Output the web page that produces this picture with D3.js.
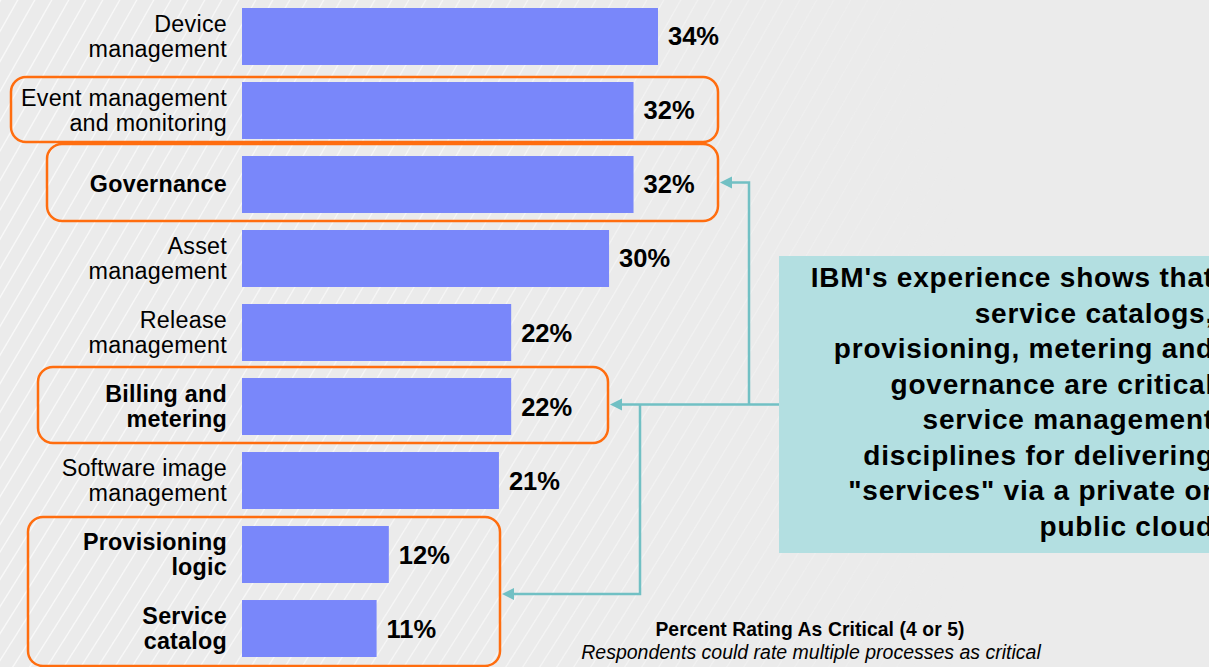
<!DOCTYPE html>
<html>
<head>
<meta charset="utf-8">
<script src="https://cdn.jsdelivr.net/npm/d3@7"></script>
<style>
  html, body { margin: 0; padding: 0; background: #ebebeb; overflow: hidden; }
  svg { display: block; font-family: "Liberation Sans", Arial, Helvetica, sans-serif; }
</style>
</head>
<body>
<div class="chart"></div>
<script>
const WIDTH = 1209
const HEIGHT = 667

// data
const CATEGORIES = ["Device management", "Event management and monitoring", "Governance", "Asset management",
  "Release management", "Billing and metering", "Software image management", "Provisioning logic", "Service catalog"]
const LABEL_LINES = [["Device", "management"], ["Event management", "and monitoring"], ["Governance"],
  ["Asset", "management"], ["Release", "management"], ["Billing and", "metering"],
  ["Software image", "management"], ["Provisioning", "logic"], ["Service", "catalog"]]
const VALUES = [34, 32, 32, 30, 22, 22, 21, 12, 11]
const BOLD = ["Governance", "Billing and metering", "Provisioning logic", "Service catalog"]

const CALLOUT_LINES = ["IBM's experience shows that", "service catalogs,", "provisioning, metering and",
  "governance are critical", "service management", "disciplines for delivering",
  "\"services\" via a private or", "public cloud"]
const TITLE = "Percent Rating As Critical (4 or 5)"
const SUBTITLE = "Respondents could rate multiple processes as critical"

// highlight boxes: first & last category of each group
const HIGHLIGHTS = [
  { from: "Event management and monitoring", to: "Event management and monitoring", x0: 11, x1: 718, padTop: 5, padBottom: 3 },
  { from: "Governance", to: "Governance", x0: 47, x1: 718, padTop: 12, padBottom: 8 },
  { from: "Billing and metering", to: "Billing and metering", x0: 38, x1: 608, padTop: 11, padBottom: 8 },
  { from: "Provisioning logic", to: "Service catalog", x0: 28, x1: 500, padTop: 9, padBottom: 9 }
]

const BAR_COLOR = "#7987fa"
const ORANGE = "#ff6d0f"
const TEAL = "#71c0c4"
const CALLOUT_FILL = "#b3dfe1"

const svg = d3.select(".chart").append("svg").attr("width", WIDTH).attr("height", HEIGHT)

// background with faint diagonal streaks on the left
const defs = svg.append("defs")
const grad = defs.append("linearGradient").attr("id", "fade").attr("x1", 0).attr("x2", 1).attr("y1", 0).attr("y2", 0)
grad.append("stop").attr("offset", "0%").attr("stop-color", "#fff").attr("stop-opacity", 1)
grad.append("stop").attr("offset", "45%").attr("stop-color", "#fff").attr("stop-opacity", 0.7)
grad.append("stop").attr("offset", "80%").attr("stop-color", "#fff").attr("stop-opacity", 0)
const mask = defs.append("mask").attr("id", "streakMask")
mask.append("rect").attr("width", WIDTH).attr("height", HEIGHT).attr("fill", "url(#fade)")

svg.append("rect").attr("width", WIDTH).attr("height", HEIGHT).attr("fill", "#ebebeb")
const streaks = svg.append("g").attr("mask", "url(#streakMask)")
  .attr("stroke", "#f8f8f8").attr("stroke-width", 1.4).attr("fill", "none")
for (let i = -40; i < 60; i++) {
  let x = i * 17
  streaks.append("path").attr("d", `M${x},${HEIGHT + 20} Q${x + 180},${HEIGHT - 260} ${x + 420},-20`)
}

// scales
const xScale = d3.scaleLinear().domain([0, 34]).range([242, 658])
const yScale = d3.scaleBand().domain(CATEGORIES).range([8, 657]).paddingInner(0.23).paddingOuter(0)

// highlight boxes
svg.append("g").selectAll("rect").data(HIGHLIGHTS).join("rect")
  .attr("x", d => d.x0)
  .attr("y", d => yScale(d.from) - d.padTop)
  .attr("width", d => d.x1 - d.x0)
  .attr("height", d => yScale(d.to) + yScale.bandwidth() + d.padBottom - yScale(d.from) + d.padTop)
  .attr("rx", 15).attr("ry", 15)
  .attr("fill", "none").attr("stroke", ORANGE).attr("stroke-width", 2.5)

const rows = CATEGORIES.map((c, i) => ({ cat: c, lines: LABEL_LINES[i], value: VALUES[i], bold: BOLD.includes(c) }))

// bars
svg.append("g").selectAll("rect").data(rows).join("rect")
  .attr("x", xScale(0))
  .attr("y", d => yScale(d.cat))
  .attr("width", d => xScale(d.value) - xScale(0))
  .attr("height", yScale.bandwidth())
  .attr("fill", BAR_COLOR)

// category labels
const labels = svg.append("g").selectAll("text").data(rows).join("text")
  .attr("text-anchor", "end")
  .attr("font-size", 23.3)
  .attr("letter-spacing", 0.25)
  .attr("font-weight", d => d.bold ? "bold" : "normal")
  .attr("fill", "#000")
labels.each(function (d) {
  let cy = yScale(d.cat) + yScale.bandwidth() / 2
  let n = d.lines.length
  d3.select(this).selectAll("tspan").data(d.lines).join("tspan")
    .attr("x", xScale(0) - 15)
    .attr("y", (l, j) => cy + 8 + (j - (n - 1) / 2) * 25)
    .text(l => l)
})

// value labels
svg.append("g").selectAll("text").data(rows).join("text")
  .attr("x", d => xScale(d.value) + 10)
  .attr("y", d => yScale(d.cat) + yScale.bandwidth() / 2 + 9)
  .attr("font-size", 25.5).attr("font-weight", "bold").attr("fill", "#000")
  .text(d => d.value + "%")

// callout box
const callout = { x: 779, y: 256, w: 440, h: 297 }
svg.append("rect").attr("x", callout.x).attr("y", callout.y).attr("width", callout.w).attr("height", callout.h)
  .attr("fill", CALLOUT_FILL)
svg.append("g").selectAll("text").data(CALLOUT_LINES).join("text")
  .attr("x", 1214)
  .attr("y", (d, i) => 287 + i * 35.5)
  .attr("text-anchor", "end")
  .attr("font-size", 28).attr("letter-spacing", 0.8).attr("font-weight", "bold").attr("fill", "#000")
  .text(d => d)

// connector arrows
const originY = callout.y + callout.h / 2
const arrows = svg.append("g").attr("stroke", TEAL).attr("stroke-width", 2.5).attr("fill", "none")
const arrowTargets = [
  { tipX: 720, tipY: yScale("Governance") + yScale.bandwidth() / 2 - 2, branchX: 749 },
  { tipX: 610, tipY: originY, branchX: null },
  { tipX: 502, tipY: 594, branchX: 640 }
]
arrows.append("line").attr("x1", callout.x).attr("y1", originY).attr("x2", 620).attr("y2", originY)
for (let a of arrowTargets) {
  if (a.branchX !== null) {
    arrows.append("polyline")
      .attr("points", `${a.branchX},${originY} ${a.branchX},${a.tipY} ${a.tipX + 10},${a.tipY}`)
  }
  svg.append("path")
    .attr("d", `M${a.tipX},${a.tipY} L${a.tipX + 12},${a.tipY - 6} L${a.tipX + 12},${a.tipY + 6} Z`)
    .attr("fill", TEAL)
}

// footnote
svg.append("text").attr("x", 810).attr("y", 636).attr("text-anchor", "middle")
  .attr("font-size", 19.3).attr("letter-spacing", 0.1).attr("font-weight", "bold").attr("fill", "#000").text(TITLE)
svg.append("text").attr("x", 811).attr("y", 659).attr("text-anchor", "middle")
  .attr("font-size", 19.5).attr("font-style", "italic").attr("fill", "#000").text(SUBTITLE)
</script>
</body>
</html>
